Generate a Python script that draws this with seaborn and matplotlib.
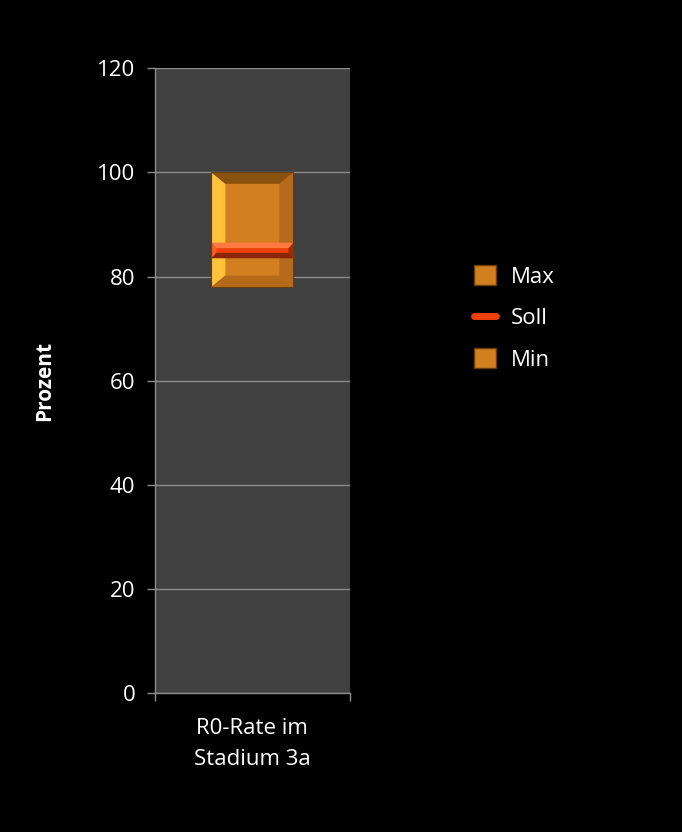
import matplotlib
matplotlib.use('Agg')
import matplotlib.pyplot as plt
import seaborn as sns
import pandas as pd
from matplotlib.patches import Patch, Polygon
from matplotlib.lines import Line2D

# Data
category = ["R0-Rate im\nStadium 3a"]
base = [78]        # unsichtbarer Sockel
min_seg = [5.5]    # Min
soll_seg = [3]     # Soll
max_seg = [13.5]   # Max
series = ["Min", "Soll", "Max"]
yticks = [0, 20, 40, 60, 80, 100, 120]

colors = {"Min": "#D2801F", "Soll": "#F0400A", "Max": "#D2801F"}


def bevel(ax, x0, y0, w, h, bx, by, light, right, top, bot, z):
    x1, y1 = x0 + w, y0 + h
    ax.add_patch(Polygon([(x0, y0), (x0 + bx, y0 + by), (x0 + bx, y1 - by), (x0, y1)],
                         closed=True, color=light, zorder=z, lw=0))
    ax.add_patch(Polygon([(x1, y0), (x1 - bx, y0 + by), (x1 - bx, y1 - by), (x1, y1)],
                         closed=True, color=right, zorder=z, lw=0))
    ax.add_patch(Polygon([(x0, y1), (x0 + bx, y1 - by), (x1 - bx, y1 - by), (x1, y1)],
                         closed=True, color=top, zorder=z, lw=0))
    ax.add_patch(Polygon([(x0, y0), (x0 + bx, y0 + by), (x1 - bx, y0 + by), (x1, y0)],
                         closed=True, color=bot, zorder=z, lw=0))


sns.set_style("dark")
plt.rcParams['font.family'] = ['Open Sans', 'DejaVu Sans']

fig = plt.figure(figsize=(6.82, 8.32), dpi=100, facecolor="black")
ax = fig.add_axes([0.227, 0.167, 0.286, 0.751])
ax.set_facecolor("#404040")

df = pd.DataFrame({"cat": category, "base": base, "Min": min_seg, "Soll": soll_seg, "Max": max_seg})

bottom = df["base"].copy()
bars = {}
for s in series:
    n0 = len(ax.patches)
    sns.barplot(data=df, x="cat", y=s, bottom=bottom, color=colors[s], width=0.42,
                saturation=1, linewidth=0, ax=ax, zorder=3)
    bars[s] = ax.patches[n0]
    bottom = bottom + df[s]

# bevel over the whole orange box (Min bottom .. Max top)
pmin, pmax, psoll = bars["Min"], bars["Max"], bars["Soll"]
x0, y0 = pmin.get_x(), pmin.get_y()
w = pmin.get_width()
h = pmax.get_y() + pmax.get_height() - y0
bevel(ax, x0, y0, w, h, w * 0.17, 2.2, "#FFC23A", "#B8691A", "#8A5210", "#B56A1A", 4)
ax.add_patch(plt.Rectangle((x0, y0), w, h, fill=False, edgecolor="#6A3C0A", lw=0.8, zorder=6))

# Soll band with its own bevel, on top
psoll.set_zorder(5)
sx, sy, sw, sh = psoll.get_x(), psoll.get_y(), psoll.get_width(), psoll.get_height()
bevel(ax, sx, sy, sw, sh, sw * 0.06, sh * 0.35, "#FF5A20", "#A02A08", "#FF7A40", "#8A2508", 5.5)

ax.set_xlim(-0.5, 0.5)
ax.set_ylim(0, 120)
ax.set_yticks(yticks)
ax.yaxis.grid(True, color="#8C8C8C", linewidth=1.0, zorder=0)
ax.xaxis.grid(False)
ax.set_axisbelow(True)

for side in ["top", "right"]:
    ax.spines[side].set_visible(False)
for side in ["left", "bottom"]:
    ax.spines[side].set_visible(True)
    ax.spines[side].set_color("#8C8C8C")
    ax.spines[side].set_linewidth(1.0)

ax.tick_params(axis="y", colors="#8C8C8C", labelcolor="white", labelsize=16,
               direction="out", length=6, width=1, left=True, pad=8)
ax.tick_params(axis="x", which="major", length=0, labelcolor="white", labelsize=16, pad=18)
ax.set_xticks([-0.5, 0.5], minor=True)
ax.tick_params(axis="x", which="minor", colors="#8C8C8C", direction="out", length=6, width=1, bottom=True)
for lbl in ax.get_xticklabels():
    lbl.set_linespacing(1.6)

ax.set_xlabel("")
ax.set_ylabel("Prozent", color="white", fontsize=15, fontweight="bold", labelpad=30)

handles = [
    Patch(facecolor=colors["Max"], edgecolor="#6A3C0A", label="Max"),
    Line2D([0], [0], color=colors["Soll"], lw=5, label="Soll"),
    Patch(facecolor=colors["Min"], edgecolor="#6A3C0A", label="Min"),
]
leg = fig.legend(handles=handles, loc="upper left", bbox_to_anchor=(0.665, 0.705),
                 frameon=False, fontsize=16, labelcolor="white", handlelength=1.0,
                 handleheight=1.0, handletextpad=0.7, labelspacing=0.85)

fig.savefig("out.png", dpi=100, facecolor="black")
